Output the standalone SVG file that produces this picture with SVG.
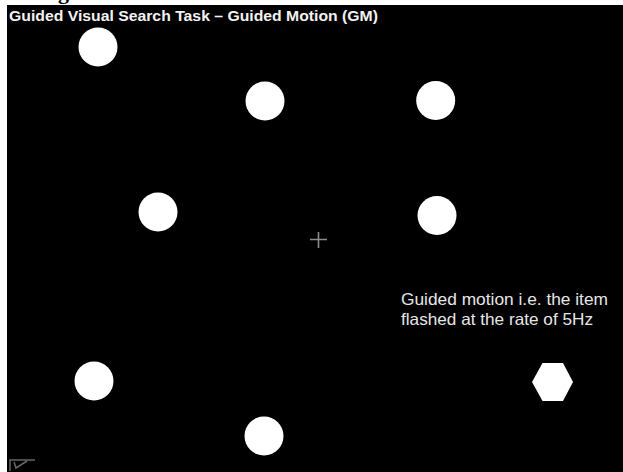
<svg xmlns="http://www.w3.org/2000/svg" width="623" height="472" viewBox="0 0 623 472">
<style>
.item{fill:#ffffff}
.title{font-family:"Liberation Sans",Arial,sans-serif;font-weight:bold;font-size:15.5px;fill:#f2f2f2}
.note{font-family:"Liberation Sans",Arial,sans-serif;font-size:16.5px;fill:#e6e6e6}
</style>
<rect x="0" y="0" width="623" height="472" fill="#ffffff"/>
<text x="58" y="-1" font-family="'Liberation Serif',serif" font-weight="bold" font-size="22" fill="#000">g</text>
<rect x="7" y="5" width="616" height="467" fill="#000000"/>
<text class="title" x="9" y="21" textLength="369" lengthAdjust="spacingAndGlyphs">Guided Visual Search Task – Guided Motion (GM)</text>
<g id="item1"><circle class="item" cx="98" cy="47" r="19.5"/></g>
<g id="item2"><circle class="item" cx="265" cy="101" r="19.5"/></g>
<g id="item3"><circle class="item" cx="435.7" cy="100.5" r="19.5"/></g>
<g id="item4"><circle class="item" cx="158" cy="212" r="19.5"/></g>
<g id="item5"><circle class="item" cx="437" cy="215.5" r="19.5"/></g>
<g id="item6"><circle class="item" cx="94" cy="381" r="19.5"/></g>
<g id="item7"><circle class="item" cx="264" cy="436" r="19.5"/></g>
<g id="target"><polygon class="item" points="532,382 542.5,363 563,363 573,382 563,401 542.5,401"/></g>
<g id="fixation"><path d="M310,239.5 H327 M318.5,232 V248" stroke="#8c8c8c" stroke-width="1.6" fill="none"/></g>
<g id="note">
<text class="note" x="401" y="305" textLength="207" lengthAdjust="spacingAndGlyphs">Guided motion i.e. the item</text>
<text class="note" x="401" y="325" textLength="192" lengthAdjust="spacingAndGlyphs">flashed at the rate of 5Hz</text>
</g>
<g id="connectors"></g>
<path d="M35,460 H10 V471 M14,462 L16,468 L27,461" stroke="#666" stroke-width="1.5" fill="none"/>
</svg>
